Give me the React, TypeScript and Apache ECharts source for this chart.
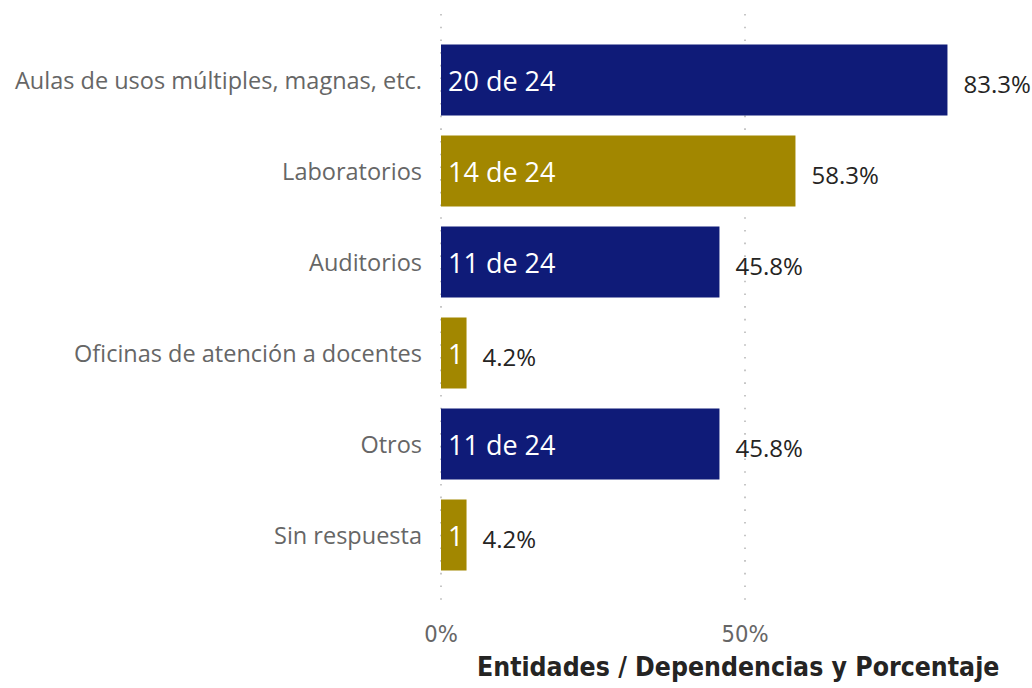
import React, { useEffect, useRef } from "react";
import * as echarts from "echarts";

const categories = [
  "Aulas de usos múltiples, magnas, etc.",
  "Laboratorios",
  "Auditorios",
  "Oficinas de atención a docentes",
  "Otros",
  "Sin respuesta",
];
const counts = [20, 14, 11, 1, 11, 1];
const total = 24;
const percents = [83.3, 58.3, 45.8, 4.2, 45.8, 4.2];
const insideLabels = ["20 de 24", "14 de 24", "11 de 24", "1", "11 de 24", "1"];
const barColors = ["#0f1b78", "#a28700", "#0f1b78", "#a28700", "#0f1b78", "#a28700"];
const xTicks = [0, 50];
const axisTitle = "Entidades / Dependencias y Porcentaje";

export default function App() {
  const ref = useRef<HTMLDivElement>(null);
  useEffect(() => {
    document.body.style.margin = "0";
    const chart = echarts.init(ref.current!, null, { renderer: "svg" });
    const catFont = "'Open Sans', 'Noto Sans', sans-serif";
    const dinFont = "'DejaVu Sans Condensed', 'DejaVu Sans', sans-serif";
    const xMax = 90;
    const plotW = 608 * (xMax / 100);
    chart.setOption({
      animation: false,
      backgroundColor: "#ffffff",
      grid: [
        { left: 441, width: plotW, top: 14, height: 594, containLabel: false },
        { left: 441, width: plotW, top: 34.5, height: 546, containLabel: false },
      ],
      xAxis: [
        {
          type: "value",
          gridIndex: 0,
          min: 0,
          max: xMax,
          interval: 50,
          axisLine: { show: false },
          axisTick: { show: false },
          axisLabel: {
            margin: 14,
            color: "#666666",
            fontSize: 23.5,
            fontFamily: dinFont,
            showMaxLabel: false,
            formatter: (v: number) => (xTicks.includes(v) ? v + "%" : ""),
          },
          splitLine: {
            show: true,
            showMaxLine: false,
            lineStyle: { color: "#b8b8b8", width: 1.6, type: [1.6, 11.1] },
          },
        },
        {
          type: "value",
          gridIndex: 1,
          min: 0,
          max: xMax,
          interval: 50,
          show: false,
          splitLine: { show: false },
        },
      ],
      yAxis: [
        { type: "value", gridIndex: 0, show: false, min: 0, max: 1, splitLine: { show: false } },
        {
          type: "category",
          gridIndex: 1,
          data: categories,
          inverse: true,
          axisLine: { show: false },
          axisTick: { show: false },
          axisLabel: {
            margin: 19,
            color: "#666666",
            fontSize: 23.5,
            fontFamily: catFont,
          },
        },
      ],
      series: [
        {
          type: "bar",
          xAxisIndex: 1,
          yAxisIndex: 1,
          barWidth: 71,
          data: percents.map((p, i) => ({ value: p, itemStyle: { color: barColors[i] } })),
          label: {
            show: true,
            position: "insideLeft",
            distance: 7,
            color: "#ffffff",
            fontSize: 27,
            fontFamily: catFont,
            formatter: (p: any) => insideLabels[p.dataIndex],
          },
        },
        {
          type: "bar",
          xAxisIndex: 1,
          yAxisIndex: 1,
          barWidth: 71,
          barGap: "-100%",
          silent: true,
          data: percents.map((p, i) => ({ value: p, count: counts[i], total })),
          itemStyle: { color: "rgba(0,0,0,0)" },
          label: {
            show: true,
            position: "right",
            distance: 16,
            offset: [0, 3],
            color: "#252423",
            fontSize: 24,
            fontFamily: catFont,
            formatter: (p: any) => percents[p.dataIndex].toFixed(1) + "%",
          },
        },
      ],
      graphic: [
        {
          type: "text",
          left: 477,
          top: 653,
          style: {
            text: axisTitle,
            fill: "#252423",
            font: `bold 26.4px ${dinFont}`,
          },
        },
      ],
    });
    return () => chart.dispose();
  }, []);
  return (
    <div
      ref={ref}
      style={{ position: "absolute", left: 0, top: 0, width: 1032, height: 688 }}
    />
  );
}
